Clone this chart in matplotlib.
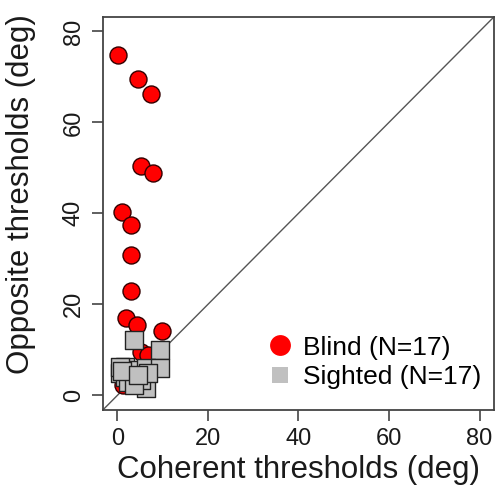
import matplotlib
matplotlib.use("Agg")
import matplotlib.pyplot as plt
from matplotlib.lines import Line2D

plt.rcParams['font.family'] = ['Liberation Sans', 'DejaVu Sans']

# Blind group (coherent, opposite thresholds)
blind_x = [0.2, 4.6, 7.5, 5.3, 7.9, 1.1, 3.1, 3.1, 2.9, 1.8, 4.3, 9.8, 5.1, 6.7, 1.2, 3.0, 6.0]
blind_y = [74.7, 69.5, 66.2, 50.3, 48.8, 40.2, 37.4, 30.8, 22.9, 16.9, 15.4, 14.1, 9.5, 8.8, 2.2, 3.0, 4.0]

# Sighted group
sighted_x = [3.7, 9.5, 1.6, 0.5, 4.5, 6.4, 9.3, 3.1, 1.6, 6.4, 5.3, 2.4, 0.5, 3.7, 6.7, 1.0, 4.5]
sighted_y = [12.1, 10.0, 6.2, 4.8, 5.5, 5.9, 5.9, 3.7, 4.0, 1.5, 3.3, 2.9, 6.2, 2.2, 4.8, 5.3, 4.4]

ticks = [0, 20, 40, 60, 80]
legend_labels = ["Blind (N=17)", "Sighted (N=17)"]

fig = plt.figure(figsize=(4.95, 4.95), dpi=100)
ax = fig.add_axes([0.208, 0.172, 0.79, 0.794])

lim = (-3.2, 83.2)
ax.set_xlim(lim)
ax.set_ylim(lim)

# identity line
ax.plot(lim, lim, color="#555555", linewidth=1, zorder=1)

ax.scatter(blind_x, blind_y, s=150, marker="o", facecolor="#ff0000",
           edgecolor="#330000", linewidth=1, zorder=2)
ax.scatter(sighted_x, sighted_y, s=150, marker="s", facecolor="#c0c0c0",
           edgecolor="#222222", linewidth=1, zorder=3)

ax.set_xticks(ticks)
ax.set_yticks(ticks)
ax.tick_params(direction="out", length=8, width=1.2, color="#444444",
               labelsize=17, labelcolor="#1a1a1a", pad=5)
for lab in ax.get_yticklabels():
    lab.set_rotation(90)
    lab.set_va("center")

for sp in ax.spines.values():
    sp.set_color("#444444")
    sp.set_linewidth(1.3)

ax.set_xlabel("Coherent thresholds (deg)", fontsize=22.5, color="#1a1a1a", labelpad=4)
ax.set_ylabel("Opposite thresholds (deg)", fontsize=22.5, color="#1a1a1a")
ax.yaxis.set_label_coords(-0.17, 0.55)

handles = [
    Line2D([], [], linestyle="none", marker="o", markersize=15,
           markerfacecolor="#ff0000", markeredgewidth=0),
    Line2D([], [], linestyle="none", marker="s", markersize=12,
           markerfacecolor="#c0c0c0", markeredgewidth=0),
]
ax.legend(handles, legend_labels, loc="lower right", frameon=False,
          fontsize=19, handletextpad=0.25, handlelength=1.2,
          borderaxespad=0.2, borderpad=0.3, labelspacing=0.2,
          bbox_to_anchor=(1.0, 0.02))

fig.savefig("out.png", dpi=100)
